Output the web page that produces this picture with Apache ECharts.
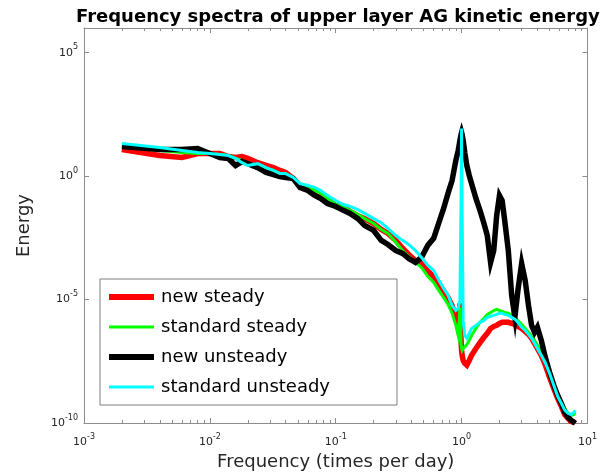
<!DOCTYPE html>
<html>
<head>
<meta charset="utf-8">
<script src="https://cdn.jsdelivr.net/npm/echarts@6/dist/echarts.min.js"></script>
<style>html,body{margin:0;padding:0;background:#fff}#c{width:600px;height:476px}</style>
</head>
<body>
<div id="c"></div>
<script>
const freq = [0.002,0.004,0.006,0.008,0.010,0.012,0.014,0.016,0.018,0.020,
  0.024,0.028,0.032,0.036,0.040,0.046,0.052,0.060,0.068,0.076,
  0.086,0.10,0.115,0.13,0.15,0.17,0.20,0.23,0.26,0.30,
  0.34,0.38,0.43,0.48,0.54,0.60,0.66,0.72,0.78,0.84,
  0.90,0.94,0.97,0.99,1.00,1.01,1.03,1.06,1.10,1.15,
  1.20,1.30,1.40,1.50,1.60,1.70,1.80,1.90,2.00,2.10,
  2.20,2.35,2.50,2.65,2.80,3.00,3.20,3.40,3.60,3.80,
  4.00,4.30,4.60,5.00,5.40,5.80,6.20,6.60,7.00,7.40,
  7.80,8.00];

const newSteady = [11.9,6.8,5.7,8.2,8.2,8.2,6.2,5.7,6.2,5.2,
  3.5,2.7,2.2,1.7,1.4,0.80,0.42,0.31,0.26,0.18,
  0.113,0.065,0.054,0.037,0.025,0.019,0.012,0.0069,0.0048,0.0025,
  1.2e-3,6.7e-4,3.8e-4,2.9e-4,1.4e-4,8.6e-5,4.5e-5,2.3e-5,1.2e-5,5.8e-6,
  1.7e-6,6.8e-7,7.0e-6,2.2e-7,8.7e-8,5.5e-8,3.4e-8,2.6e-8,2.2e-8,3.4e-8,
  5.5e-8,1.05e-7,1.8e-7,2.9e-7,4.3e-7,6.8e-7,8.2e-7,9.0e-7,1.08e-6,1.2e-6,
  1.2e-6,1.2e-6,1.08e-6,9.9e-7,8.2e-7,6.8e-7,5.1e-7,3.9e-7,2.7e-7,1.7e-7,
  1.05e-7,5.5e-8,2.4e-8,7.1e-9,2.5e-9,1.0e-9,4.7e-10,2.2e-10,1.55e-10,1.17e-10,
  1.07e-10,9.7e-11];

const standardSteady = [15.8,10.9,9.0,8.2,8.2,7.5,6.8,5.2,4.3,3.5,
  2.7,2.0,1.7,1.27,1.06,0.88,0.50,0.35,0.26,0.20,
  0.124,0.071,0.054,0.041,0.028,0.019,0.012,0.0069,0.0048,0.0021,
  9.7e-4,5.6e-4,3.2e-4,2.0e-4,8.6e-5,4.9e-5,2.3e-5,1.2e-5,6.4e-6,2.8e-6,
  9.0e-7,3.5e-7,4.8e-6,1.8e-7,1.05e-7,8.7e-8,1.05e-7,1.16e-7,1.5e-7,2.2e-7,
  3.5e-7,6.8e-7,1.2e-6,1.7e-6,2.5e-6,3.0e-6,3.6e-6,4.0e-6,3.6e-6,3.3e-6,
  3.0e-6,2.8e-6,2.3e-6,1.9e-6,1.4e-6,9.9e-7,6.8e-7,4.7e-7,3.2e-7,2.2e-7,
  1.4e-7,7.3e-8,3.4e-8,1.13e-8,4.0e-9,1.6e-9,7.5e-10,3.9e-10,2.5e-10,2.0e-10,
  2.2e-10,2.7e-10];

const newUnsteady = [15.8,11.9,11.9,13.1,8.2,5.7,5.2,2.7,3.9,3.2,
  2.2,1.4,1.16,0.96,0.88,0.80,0.35,0.26,0.164,0.124,
  0.078,0.059,0.041,0.031,0.019,0.010,0.0063,0.0025,0.0017,9.7e-4,
  7.4e-4,4.6e-4,3.2e-4,5.1e-4,1.6e-3,3.0e-3,0.013,0.049,0.20,0.66,
  4.3,10.9,27.6,48,58,48,27.6,9.0,2.7,1.06,
  0.50,0.124,0.041,0.013,0.0039,3.2e-4,9.7e-4,0.025,0.164,0.103,
  0.016,9.7e-4,1.5e-5,1.9e-6,2.3e-5,2.9e-4,6.0e-5,5.8e-6,9.0e-7,4.7e-7,
  7.5e-7,2.2e-7,5.0e-8,1.13e-8,3.4e-9,1.3e-9,6.3e-10,2.7e-10,1.7e-10,1.3e-10,
  1.07e-10,9.7e-11];

const standardUnsteady = [20.9,14.4,10.9,9.0,8.2,7.5,6.8,5.2,3.5,2.7,
  3.2,2.2,1.7,1.27,1.27,0.88,0.50,0.42,0.35,0.26,
  0.164,0.103,0.071,0.059,0.044,0.031,0.019,0.013,0.0076,0.0039,
  0.0025,0.0017,9.7e-4,5.1e-4,2.4e-4,1.5e-4,6.0e-5,2.8e-5,1.5e-5,5.8e-6,
  3.6e-6,4.4e-6,9.2e-6,0.103,84,0.041,1.2e-6,3.5e-7,2.7e-7,4.3e-7,
  6.8e-7,9.0e-7,1.2e-6,1.4e-6,1.9e-6,2.1e-6,2.3e-6,2.5e-6,2.8e-6,2.8e-6,
  2.5e-6,2.3e-6,1.9e-6,1.6e-6,1.2e-6,7.5e-7,5.6e-7,3.9e-7,2.7e-7,1.7e-7,
  1.05e-7,5.5e-8,2.9e-8,1.03e-8,3.4e-9,1.2e-9,6.3e-10,3.3e-10,2.5e-10,2.2e-10,
  2.7e-10,3.3e-10];

const seriesNames = ['new steady','standard steady','new unsteady','standard unsteady'];
const seriesColors = ['#ff0000','#00ff00','#000000','#00ffff'];
const seriesWidths = [5.5,3,5.5,3];
const legendIcons = ['path://M0,0L45,0L45,6L0,6Z','path://M0,0L45,0L45,3L0,3Z',
                     'path://M0,0L45,0L45,6L0,6Z','path://M0,0L45,0L45,3L0,3Z'];
const seriesValues = [newSteady, standardSteady, newUnsteady, standardUnsteady];

const FONT = 'DejaVu Sans';
const AXC = '#8c8c8c';
const TXC = '#262626';

// minor tick positions (log10 space) for the decoration axes
const minorPos = [];
for (let d = -3; d <= 0; d++) for (let k = 2; k <= 9; k++) minorPos.push(d + Math.log10(k));

const supFmt = v => { const e = Math.round(Math.log10(v)); return '{b|10}{s|' + e + '}'; };
const yFmt = v => { const e = Math.round(Math.log10(v)); return (e % 5 === 0 && e < 6) ? '{b|10}{s|' + e + '}' : ''; };
const rich = {
  b: {fontSize: 11, fontFamily: FONT, color: TXC, lineHeight: 19},
  s: {fontSize: 8, fontFamily: FONT, color: TXC, lineHeight: 9, verticalAlign: 'top'}
};

const chart = echarts.init(document.getElementById('c'), null, {renderer: 'canvas'});
chart.setOption({
  animation: false,
  backgroundColor: '#fff',
  title: {
    text: 'Frequency spectra of upper layer AG kinetic energy',
    left: 71, top: 3,
    textStyle: {fontFamily: FONT, fontSize: 18, fontWeight: 'bold', color: '#000'}
  },
  grid: {left: 84, right: 10, top: 28, bottom: 53, containLabel: false},
  legend: {
    orient: 'vertical', left: 100, top: 279,
    padding: [8, 67, 8, 9],
    itemWidth: 45, itemHeight: 14, itemGap: 10,
    borderColor: '#7f7f7f', borderWidth: 1, backgroundColor: '#fff',
    textStyle: {fontFamily: FONT, fontSize: 18, color: '#000', lineHeight: 20, padding: [0,0,0,2]},
    data: seriesNames.map((n, i) => ({name: n, icon: legendIcons[i]}))
  },
  xAxis: [
    {type: 'log', logBase: 10, min: 0.001, max: 10, interval: 1, position: 'bottom',
     name: 'Frequency (times per day)', nameLocation: 'middle', nameGap: 30,
     nameTextStyle: {fontFamily: FONT, fontSize: 18, color: TXC},
     axisLine: {show: true, onZero: false, lineStyle: {color: AXC, width: 1}},
     axisTick: {show: true, inside: true, length: 5, lineStyle: {color: AXC}},
     axisLabel: {formatter: supFmt, rich: rich, margin: 10},
     splitLine: {show: false}, minorTick: {show: false}},
    {type: 'log', logBase: 10, min: 0.001, max: 10, interval: 1, position: 'top',
     axisLine: {show: true, onZero: false, lineStyle: {color: AXC, width: 1}},
     axisTick: {show: true, inside: true, length: 5, lineStyle: {color: AXC}},
     axisLabel: {show: false}, splitLine: {show: false}},
    {type: 'value', min: -3, max: 1, position: 'bottom',
     axisLine: {show: false, onZero: false},
     axisTick: {show: true, inside: true, length: 3, customValues: minorPos, lineStyle: {color: AXC}},
     axisLabel: {show: false}, splitLine: {show: false}},
    {type: 'value', min: -3, max: 1, position: 'top',
     axisLine: {show: false, onZero: false},
     axisTick: {show: true, inside: true, length: 3, customValues: minorPos, lineStyle: {color: AXC}},
     axisLabel: {show: false}, splitLine: {show: false}}
  ],
  yAxis: [
    {type: 'log', logBase: 10, min: 1e-10, max: 1e6, interval: 5, position: 'left',
     name: 'Energy', nameLocation: 'middle', nameGap: 51,
     nameTextStyle: {fontFamily: FONT, fontSize: 18, color: TXC},
     axisLine: {show: true, onZero: false, lineStyle: {color: AXC, width: 1}},
     axisTick: {show: true, inside: true, length: 5, lineStyle: {color: AXC}},
     axisLabel: {formatter: yFmt, rich: rich, margin: 6},
     splitLine: {show: false}},
    {type: 'log', logBase: 10, min: 1e-10, max: 1e6, interval: 5, position: 'right',
     axisLine: {show: true, onZero: false, lineStyle: {color: AXC, width: 1}},
     axisTick: {show: true, inside: true, length: 5, lineStyle: {color: AXC}},
     axisLabel: {show: false}, splitLine: {show: false}}
  ],
  series: seriesNames.map((n, i) => ({
    name: n, type: 'line', xAxisIndex: 0, yAxisIndex: 0,
    symbol: 'none', showSymbol: false,
    color: seriesColors[i],
    lineStyle: {color: seriesColors[i], width: seriesWidths[i], join: 'miter'},
    data: freq.map((f, j) => [f, seriesValues[i][j]])
  }))
});
</script>
</body>
</html>
